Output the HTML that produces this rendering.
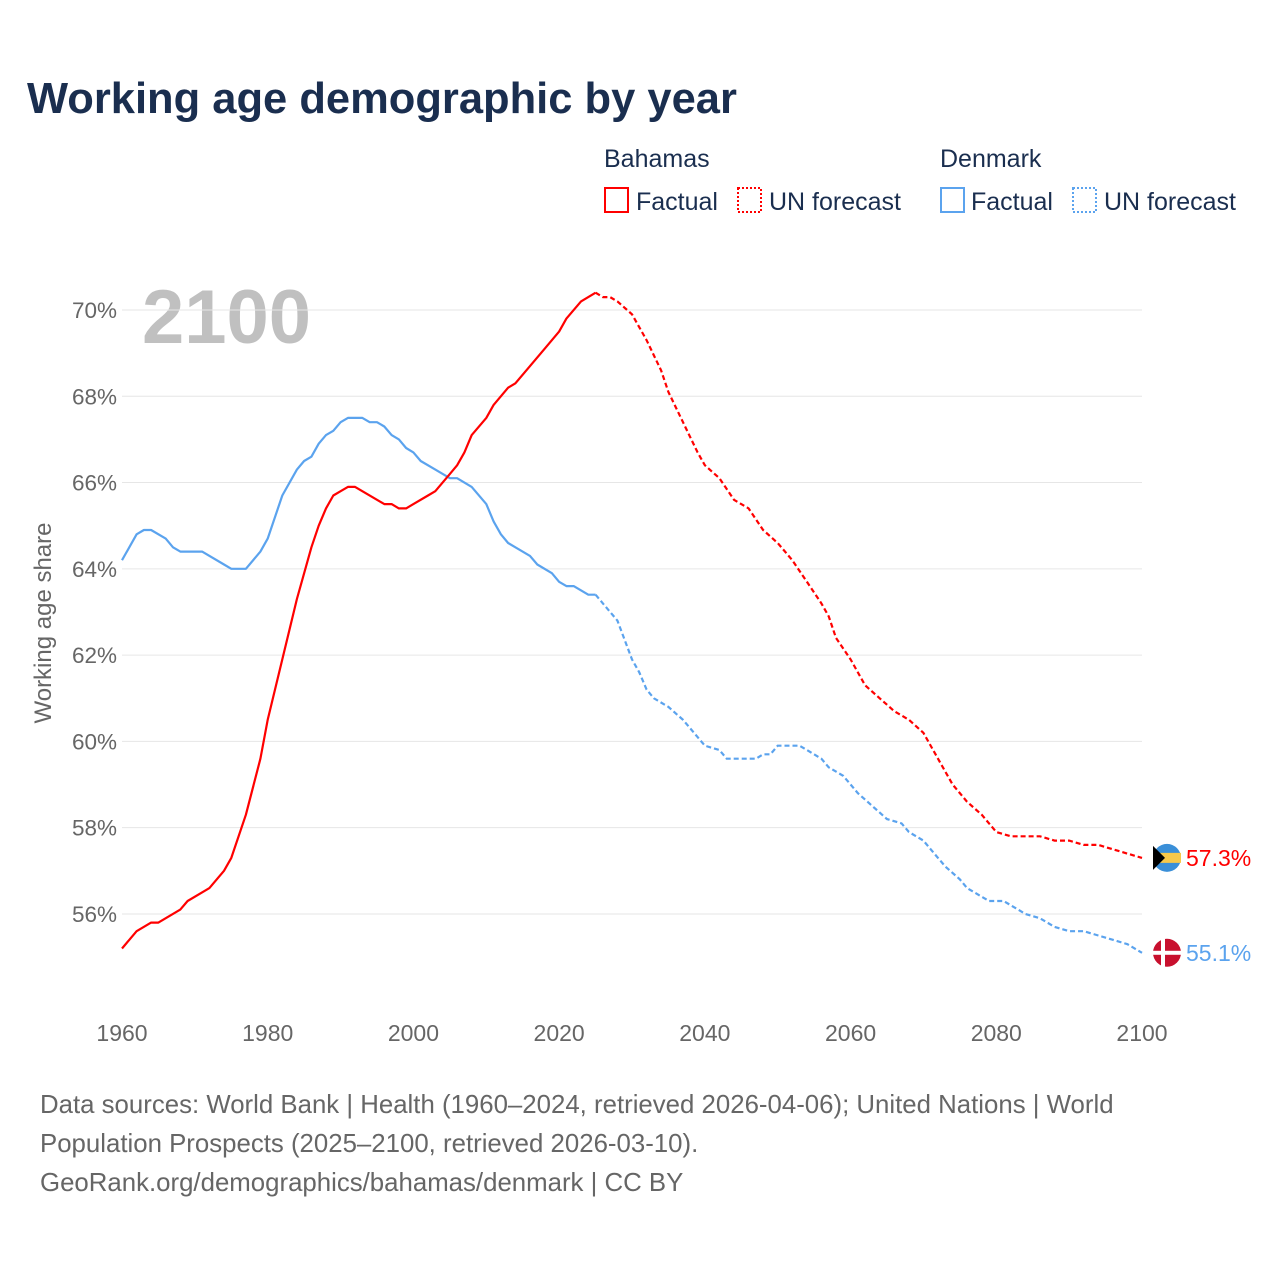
<!DOCTYPE html>
<html><head><meta charset="utf-8"><style>
body{margin:0;background:#fff;font-family:"Liberation Sans",sans-serif;}
svg text{font-family:"Liberation Sans",sans-serif;}
</style></head><body>
<svg id="chart" width="1280" height="1280" xmlns="http://www.w3.org/2000/svg">
<rect width="1280" height="1280" fill="#fff"/>
<text x="27" y="113" font-size="43.5" font-weight="bold" fill="#1a2e4f">Working age demographic by year</text>
<g font-size="25" fill="#1a2e4f">
<text x="604" y="167">Bahamas</text>
<text x="940" y="167">Denmark</text>
<rect x="605" y="188" width="23" height="24" fill="none" stroke="#f00" stroke-width="2"/>
<text x="636" y="210">Factual</text>
<rect x="738" y="188" width="23" height="24" fill="none" stroke="#f00" stroke-width="2" stroke-dasharray="2,2"/>
<text x="769" y="210">UN forecast</text>
<rect x="941" y="188" width="23" height="24" fill="none" stroke="#5ba3ee" stroke-width="2"/>
<text x="971" y="210">Factual</text>
<rect x="1073" y="188" width="23" height="24" fill="none" stroke="#5ba3ee" stroke-width="2" stroke-dasharray="2,2"/>
<text x="1104" y="210">UN forecast</text>
</g>
<text x="142" y="343" font-size="76" font-weight="bold" fill="#c0c0c0">2100</text>
<text transform="translate(51,623) rotate(-90)" text-anchor="middle" font-size="24" fill="#666">Working age share</text>
<g id="grid"></g><g id="lines"></g><g id="labels"></g>
<g font-size="25.8" fill="#666">
<text x="40" y="1113">Data sources: World Bank | Health (1960–2024, retrieved 2026-04-06); United Nations | World</text>
<text x="40" y="1152">Population Prospects (2025–2100, retrieved 2026-03-10).</text>
<text x="40" y="1191">GeoRank.org/demographics/bahamas/denmark | CC BY</text>
</g>
</svg>
<script>
const yTicks=[56,58,60,62,64,66,68,70];
const xTicks=[1960,1980,2000,2020,2040,2060,2080,2100];
const bhYears=[1960,1962,1964,1965,1968,1969,1972,1974,1975,1977,1979,1980,1982,1984,1986,1987,1988,1989,1990,1991,1992,1995,1996,1997,1998,1999,2000,2002,2003,2005,2006,2007,2008,2010,2011,2013,2014,2016,2018,2020,2021,2023,2024,2025,2026,2027,2028,2030,2032,2034,2035,2037,2039,2040,2042,2044,2046,2048,2050,2052,2054,2056,2057,2058,2060,2062,2064,2066,2068,2070,2072,2074,2076,2078,2080,2082,2086,2088,2090,2092,2094,2096,2098,2100];
const bhValues=[55.2,55.6,55.8,55.8,56.1,56.3,56.6,57.0,57.3,58.3,59.6,60.5,61.9,63.3,64.5,65.0,65.4,65.7,65.8,65.9,65.9,65.6,65.5,65.5,65.4,65.4,65.5,65.7,65.8,66.2,66.4,66.7,67.1,67.5,67.8,68.2,68.3,68.7,69.1,69.5,69.8,70.2,70.3,70.4,70.3,70.3,70.2,69.9,69.3,68.6,68.1,67.4,66.7,66.4,66.1,65.6,65.4,64.9,64.6,64.2,63.7,63.2,62.9,62.4,61.9,61.3,61.0,60.7,60.5,60.2,59.6,59.0,58.6,58.3,57.9,57.8,57.8,57.7,57.7,57.6,57.6,57.5,57.4,57.3];
const dkYears=[1960,1962,1963,1964,1966,1967,1968,1971,1974,1975,1977,1979,1980,1982,1984,1985,1986,1987,1988,1989,1990,1991,1993,1994,1995,1996,1997,1998,1999,2000,2001,2003,2005,2006,2007,2008,2010,2011,2012,2013,2014,2016,2017,2019,2020,2021,2022,2024,2025,2026,2028,2030,2031,2032,2033,2035,2037,2039,2040,2042,2043,2047,2048,2049,2050,2051,2053,2054,2056,2057,2059,2061,2063,2065,2067,2068,2070,2071,2072,2073,2075,2076,2078,2079,2081,2083,2084,2086,2087,2088,2090,2092,2094,2096,2098,2100];
const dkValues=[64.2,64.8,64.9,64.9,64.7,64.5,64.4,64.4,64.1,64.0,64.0,64.4,64.7,65.7,66.3,66.5,66.6,66.9,67.1,67.2,67.4,67.5,67.5,67.4,67.4,67.3,67.1,67.0,66.8,66.7,66.5,66.3,66.1,66.1,66.0,65.9,65.5,65.1,64.8,64.6,64.5,64.3,64.1,63.9,63.7,63.6,63.6,63.4,63.4,63.2,62.8,61.9,61.6,61.2,61.0,60.8,60.5,60.1,59.9,59.8,59.6,59.6,59.7,59.7,59.9,59.9,59.9,59.8,59.6,59.4,59.2,58.8,58.5,58.2,58.1,57.9,57.7,57.5,57.3,57.1,56.8,56.6,56.4,56.3,56.3,56.1,56.0,55.9,55.8,55.7,55.6,55.6,55.5,55.4,55.3,55.1];
const NS="http://www.w3.org/2000/svg";
const xs=y=>122+(y-1960)*1020/140;
const ys=v=>310+(70-v)*43.14;
function mk(tag,attrs,parent){const e=document.createElementNS(NS,tag);for(const k in attrs)e.setAttribute(k,attrs[k]);parent.appendChild(e);return e;}
const grid=document.getElementById('grid'),lines=document.getElementById('lines'),labels=document.getElementById('labels');
yTicks.forEach(t=>{
 const l=mk('line',{x1:122,x2:1142,y1:ys(t),y2:ys(t),stroke:'#e6e6e6','stroke-width':1},grid);
 
 
 const tx=mk('text',{x:117,y:ys(t)+8,'text-anchor':'end','font-size':22.5,fill:'#666'},grid);
 tx.textContent=t+'%';
 
 
});
xTicks.forEach(t=>{
 const tx=mk('text',{x:xs(t),y:1041,'text-anchor':'middle','font-size':23,fill:'#666'},grid);
 tx.textContent=t;
 
 
});
function series(years,vals,color,name){
 let f=[],p=[];
 years.forEach((y,i)=>{const pt=xs(y).toFixed(1)+','+ys(vals[i]).toFixed(1);if(y<=2025)f.push(pt);if(y>=2025)p.push(pt);});
 const a=mk('polyline',{points:f.join(' '),fill:'none',stroke:color,'stroke-width':2.2,'stroke-linejoin':'round'},lines);
 
 
 const b=mk('polyline',{points:p.join(' '),fill:'none',stroke:color,'stroke-width':2.2,'stroke-dasharray':'5,3'},lines);
 
 
 const lv=vals[vals.length-1];
 const c=mk('circle',{cx:1167,cy:ys(lv),r:14,fill:name==='bahamas'?'#3a8fd8':'#c8102e'},labels);
 
 
 if(name==='bahamas'){
  const s=mk('rect',{x:1153,y:ys(lv)-5,width:28,height:10,fill:'#f6c84a'},labels);
  
  
  const tr=mk('polygon',{points:`1153,${ys(lv)-12} 1165,${ys(lv)} 1153,${ys(lv)+12}`,fill:'#000'},labels);
  
  
 } else {
  const h=mk('rect',{x:1153,y:ys(lv)-2,width:28,height:4,fill:'#fff'},labels);
  
  
  const v=mk('rect',{x:1161,y:ys(lv)-14,width:4,height:28,fill:'#fff'},labels);
  
  
 }
 const t=mk('text',{x:1186,y:ys(lv)+8,'font-size':23,fill:color},labels);
 t.textContent=lv.toFixed(1)+'%';
 
 
}
series(dkYears,dkValues,'#5ba3ee','denmark');
series(bhYears,bhValues,'#f00','bahamas');
</script>
</body></html>
